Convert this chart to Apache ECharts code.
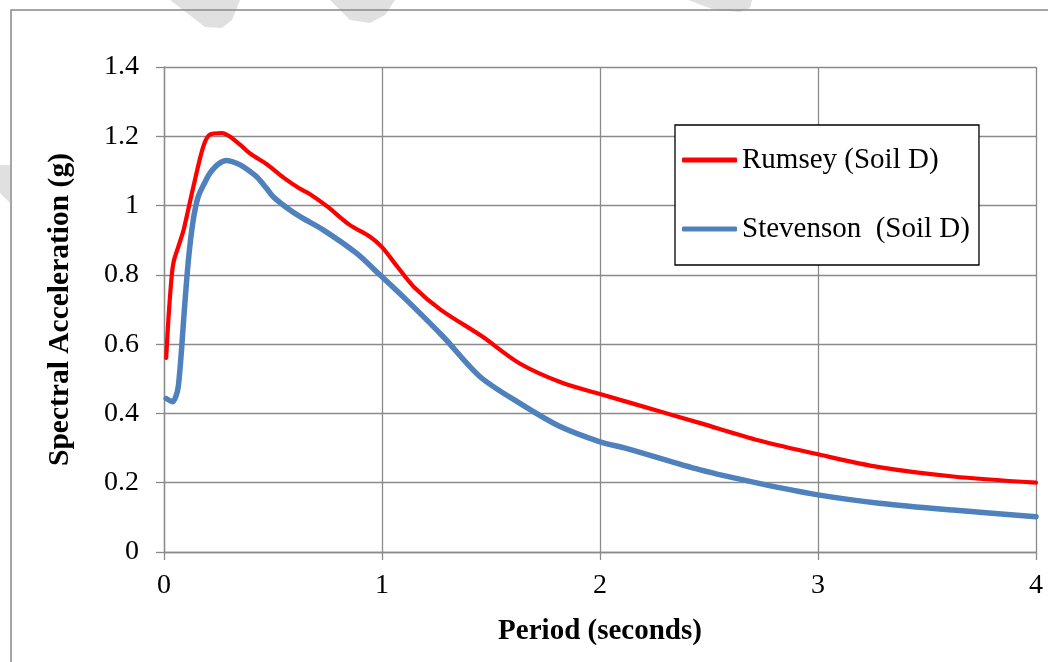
<!DOCTYPE html>
<html>
<head>
<meta charset="utf-8">
<script src="https://cdn.jsdelivr.net/npm/echarts@6/dist/echarts.min.js"></script>
<style>
html,body{margin:0;padding:0;background:#fff;}
#chart{width:1048px;height:662px;}
</style>
</head>
<body>
<div id="chart"></div>
<script>
// ---- Data ----
const seriesNames = ['Rumsey (Soil D)', 'Stevenson  (Soil D)'];
const xTickLabels = ['0', '1', '2', '3', '4'];
const yTickLabels = ['0', '0.2', '0.4', '0.6', '0.8', '1', '1.2', '1.4'];

const rumseyPeriod = [0.01, 0.02, 0.035, 0.045, 0.065, 0.09, 0.135, 0.18, 0.21, 0.265, 0.30, 0.35, 0.40, 0.47, 0.55, 0.62, 0.67, 0.75, 0.85, 0.945, 1.0, 1.07, 1.145, 1.27, 1.46, 1.63, 1.82, 2.0, 2.28, 2.46, 2.73, 3.0, 3.28, 3.62, 4.0];
const rumseySa =     [0.56, 0.67, 0.795, 0.84, 0.88, 0.93, 1.055, 1.17, 1.205, 1.209, 1.20, 1.175, 1.148, 1.12, 1.08, 1.05, 1.033, 0.997, 0.945, 0.91, 0.88, 0.824, 0.766, 0.699, 0.622, 0.545, 0.49, 0.456, 0.405, 0.372, 0.322, 0.282, 0.245, 0.218, 0.2];

const stevensonPeriod = [0.01, 0.04, 0.055, 0.066, 0.08, 0.09, 0.112, 0.134, 0.157, 0.19, 0.21, 0.25, 0.287, 0.33, 0.364, 0.425, 0.47, 0.50, 0.56, 0.624, 0.73, 0.884, 0.99, 1.113, 1.28, 1.45, 1.633, 1.817, 2.0, 2.12, 2.46, 2.73, 3.0, 3.28, 3.62, 4.0];
const stevensonSa =     [0.443, 0.434, 0.45, 0.48, 0.58, 0.67, 0.843, 0.958, 1.026, 1.07, 1.093, 1.12, 1.13, 1.123, 1.112, 1.083, 1.05, 1.026, 0.995, 0.968, 0.93, 0.862, 0.80, 0.727, 0.622, 0.506, 0.429, 0.362, 0.318, 0.299, 0.237, 0.198, 0.165, 0.141, 0.121, 0.102];

function pairs(xs, ys) { return xs.map((x, i) => [x, ys[i]]); }

const serif = '"Liberation Serif", "Times New Roman", serif';
const gridGray = '#8a8a8a';

const chart = echarts.init(document.getElementById('chart'), null, {renderer: 'canvas'});
chart.setOption({
  animation: false,
  backgroundColor: '#ffffff',
  graphic: [
    // faint watermark fragments
    {type: 'polygon', z: -10, shape: {points: [[170,0],[240,0],[232,20],[222,28],[205,27]]}, style: {fill: '#e0e0e0'}},
    {type: 'polygon', z: -10, shape: {points: [[330,0],[395,0],[385,15],[370,23],[350,20]]}, style: {fill: '#e0e0e0'}},
    {type: 'polygon', z: -10, shape: {points: [[688,0],[752,0],[750,8],[740,12],[715,10]]}, style: {fill: '#e0e0e0'}},
    {type: 'polygon', z: -10, shape: {points: [[0,165],[10,165],[10,203],[0,193]]}, style: {fill: '#e0e0e0'}},
    // outer chart border
    {type: 'rect', z: -5, shape: {x: 11, y: 10, width: 1200, height: 800}, style: {fill: 'none', stroke: '#888888', lineWidth: 1.5}}
  ],
  grid: {left: 164, right: 12, top: 67, bottom: 110, containLabel: false},
  legend: {
    orient: 'vertical',
    left: 675,
    top: 125,
    data: seriesNames,
    itemWidth: 55,
    itemHeight: 5,
    itemGap: 39,
    icon: 'roundRect',
    padding: [20, 9, 21, 7],
    borderColor: '#000000',
    borderWidth: 1.3,
    backgroundColor: '#ffffff',
    textStyle: {fontFamily: serif, fontSize: 29, color: '#000', lineHeight: 30, padding: [0, 0, 0, 0]}
  },
  xAxis: {
    type: 'value',
    min: 0, max: 4, interval: 1,
    name: 'Period (seconds)',
    nameLocation: 'middle',
    nameGap: 65,
    nameTextStyle: {fontFamily: serif, fontSize: 29, fontWeight: 'bold', color: '#000'},
    axisLine: {show: true, lineStyle: {color: gridGray, width: 1.3}},
    axisTick: {show: true, inside: false, length: 8, lineStyle: {color: gridGray, width: 1.3}},
    splitLine: {show: true, lineStyle: {color: gridGray, width: 1.3}},
    axisLabel: {
      fontFamily: serif, fontSize: 28, color: '#000', margin: 20,
      formatter: (v) => xTickLabels[Math.round(v)]
    }
  },
  yAxis: {
    type: 'value',
    min: 0, max: 1.4, interval: 0.2,
    name: 'Spectral Acceleration (g)',
    nameLocation: 'middle',
    nameGap: 89,
    nameRotate: 90,
    nameTextStyle: {fontFamily: serif, fontSize: 29.5, fontWeight: 'bold', color: '#000'},
    axisLine: {show: true, lineStyle: {color: gridGray, width: 1.3}},
    axisTick: {show: true, inside: false, length: 8, lineStyle: {color: gridGray, width: 1.3}},
    splitLine: {show: true, lineStyle: {color: gridGray, width: 1.3}},
    axisLabel: {
      fontFamily: serif, fontSize: 28, color: '#000', margin: 25,
      formatter: (v) => yTickLabels[Math.round(v / 0.2)]
    }
  },
  series: [
    {
      name: seriesNames[0],
      type: 'line',
      data: pairs(rumseyPeriod, rumseySa),
      smooth: 0.3,
      showSymbol: false,
      symbol: 'none',
      itemStyle: {color: '#ff0000'},
      lineStyle: {color: '#ff0000', width: 4.2, cap: 'round', join: 'round'},
      z: 3
    },
    {
      name: seriesNames[1],
      type: 'line',
      data: pairs(stevensonPeriod, stevensonSa),
      smooth: 0.3,
      showSymbol: false,
      symbol: 'none',
      itemStyle: {color: '#4f81bd'},
      lineStyle: {color: '#4f81bd', width: 5.5, cap: 'round', join: 'round'},
      z: 2
    }
  ]
});
</script>
</body>
</html>
